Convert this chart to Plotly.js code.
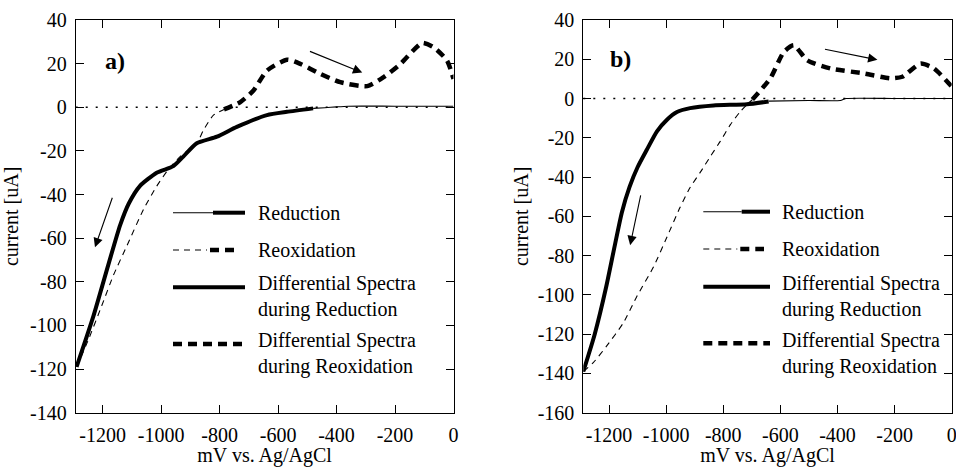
<!DOCTYPE html>
<html><head><meta charset="utf-8">
<script src="https://cdn.plot.ly/plotly-3.0.1.min.js"></script>
<style>html,body{margin:0;padding:0;background:#fff}</style>
</head><body><div id="chart" style="width:956px;height:467px"></div>
<script>
// ---------- Data (mV vs Ag/AgCl, current in uA) ----------
// Panel a
const aRedThinX = [0, -200, -360, -400, -440, -480];
const aRedThinY = [0.5, 0.5, 0.5, 0.2, -0.2, -0.5];
const aRedX = [-480, -570, -638, -741, -809, -878, -924, -958, -1015, -1072, -1110, -1140, -1180, -1232, -1289];
const aRedY = [-0.5, -2.1, -3.6, -9, -13.5, -16.5, -22.6, -27, -30, -36, -44, -54, -72, -96, -119];
const aReoxThinX = [-1289, -1250, -1203, -1163, -1117, -1060, -1015, -975, -930, -878, -855, -821, -785];
const aReoxThinY = [-119, -107, -91, -77, -63.5, -46.8, -36.2, -28.5, -22, -16.5, -10.5, -3.6, -1];
const aReoxX = [-785, -729, -684, -638, -569, -524, -455, -387, -295, -239, -181, -107, -67, -22, 0];
const aReoxY = [-1, 2.4, 7.7, 16.8, 21.8, 19.9, 15.3, 11.5, 9.7, 13.8, 19.9, 29.5, 27.4, 21.4, 13];
// Panel b
const bRedThinX = [0, -200, -370, -390, -500, -641];
const bRedThinY = [0, 0, 0, -1, -1, -1.3];
const bRedX = [-641, -717, -834, -916, -962, -997, -1032, -1068, -1100, -1128, -1155, -1180, -1210, -1250, -1290];
const bRedY = [-1.5, -2.9, -3.5, -4.9, -6.9, -10.8, -16.7, -26.2, -35, -45, -58, -75, -96, -120, -139];
const bReoxThinX = [-1290, -1255, -1208, -1150, -1103, -1044, -997, -951, -916, -880, -845, -810, -775, -740, -698];
const bReoxThinY = [-139, -134.5, -126, -114.3, -100.9, -85.7, -70.5, -55.4, -45.3, -37.5, -29.5, -21.7, -13.3, -6.6, -0.5];
const bReoxX = [-698, -635, -588, -553, -506, -424, -307, -214, -173, -109, -62, 0];
const bReoxY = [-0.5, 10.3, 23.7, 27.1, 19.5, 15.3, 12.8, 10.3, 11.1, 17.8, 15.3, 6.1];

// Tick labels
const xTickVals = [-1200, -1000, -800, -600, -400, -200, 0];
const xTickText = ["-1200", "-1000", "-800", "-600", "-400", "-200", "0"];
const aYTickVals = [-140, -120, -100, -80, -60, -40, -20, 0, 20, 40];
const aYTickText = ["-140", "-120", "-100", "-80", "-60", "-40", "-20", "0", "20", "40"];
const bYTickVals = [-160, -140, -120, -100, -80, -60, -40, -20, 0, 20, 40];
const bYTickText = ["-160", "-140", "-120", "-100", "-80", "-60", "-40", "-20", "0", "20", "40"];

const legendNames = ["Reduction", "Reoxidation", "Differential Spectra<br>during Reduction", "Differential Spectra<br>during Reoxidation"];

// ---------- Styles ----------
const W = 956, H = 467;
const px = v => v / W, py = v => 1 - v / H;
const thin = {color: '#000', width: 1.1};
const thinDash = {color: '#000', width: 1.1, dash: '6px,5px'};
const thick = {color: '#000', width: 4};
const thickDash = {color: '#000', width: 4.5, dash: '9px,6px'};
const FONT = 'Liberation Serif, Times New Roman, serif';

function tr(x, y, line, xa, ya) {
  return {x: x, y: y, type: 'scatter', mode: 'lines', line: Object.assign({shape: 'spline', smoothing: 0.6}, line),
          xaxis: xa, yaxis: ya, showlegend: false, hoverinfo: 'skip'};
}
const data = [
  tr(aRedThinX, aRedThinY, thin, 'x', 'y'),
  tr(aReoxThinX, aReoxThinY, thinDash, 'x', 'y'),
  tr(aRedX, aRedY, thick, 'x', 'y'),
  tr(aReoxX, aReoxY, thickDash, 'x', 'y'),
  tr(bRedThinX, bRedThinY, thin, 'x2', 'y2'),
  tr(bReoxThinX, bReoxThinY, thinDash, 'x2', 'y2'),
  tr(bRedX, bRedY, thick, 'x2', 'y2'),
  tr(bReoxX, bReoxY, thickDash, 'x2', 'y2')
];

function xAxis(dom, rng, anchor) {
  return {domain: dom, range: rng, anchor: anchor, tickmode: 'array', tickvals: xTickVals, ticktext: xTickText,
    ticks: 'inside', ticklen: 8, tickwidth: 1, tickcolor: '#000', mirror: 'ticks', showline: true, linecolor: '#000', linewidth: 1,
    showgrid: false, zeroline: false, tickfont: {family: FONT, size: 20, color: '#000'}, ticklabelstandoff: 4,
    ticklabeloverflow: 'allow',
    title: {text: 'mV vs. Ag/AgCl', font: {family: FONT, size: 20, color: '#000'}, standoff: 4}};
}
function yAxis(dom, rng, anchor, vals, text, st) {
  return {domain: dom, range: rng, anchor: anchor, tickmode: 'array', tickvals: vals, ticktext: text,
    ticks: 'inside', ticklen: 8, tickwidth: 1, tickcolor: '#000', mirror: 'ticks', showline: true, linecolor: '#000', linewidth: 1,
    showgrid: false, zeroline: false, tickfont: {family: FONT, size: 20, color: '#000'}, ticklabelstandoff: 4,
    title: {text: 'current [uA]', font: {family: FONT, size: 20, color: '#000'}, standoff: st}};
}
const yDom = [py(412.7), py(20)];

const shapes = [
  {type: 'line', xref: 'x domain', yref: 'y', x0: 0, x1: 1, y0: 0, y1: 0, line: {color: '#000', width: 1.5, dash: '2px,8px'}, layer: 'below'},
  {type: 'line', xref: 'x2 domain', yref: 'y2', x0: 0, x1: 1, y0: 0, y1: 0, line: {color: '#000', width: 1.5, dash: '2px,8px'}, layer: 'below'}
];
const annotations = [];
function legendBlock(x0, xm, x1, xt, rows, textRows) {
  const L = (a, b, y, line) => shapes.push({type: 'line', xref: 'paper', yref: 'paper', x0: px(a), x1: px(b), y0: py(y), y1: py(y), line: line});
  L(x0, xm, rows[0], thin); L(xm, x1, rows[0], {color: '#000', width: 4});
  L(x0, x0 + 34, rows[1], thinDash); L(x0 + 37, x1 - 6, rows[1], {color: '#000', width: 4.5, dash: '9px,6px'});
  L(x0, x1, rows[2], thick);
  L(x0, x1, rows[3], thickDash);
  legendNames.forEach((t, i) => annotations.push({xref: 'paper', yref: 'paper', x: px(xt), y: py(textRows[i]), text: t, showarrow: false,
    xanchor: 'left', yanchor: 'middle', align: 'left', font: {family: FONT, size: 20, color: '#000'}}));
}
legendBlock(173, 213, 245, 256, [212.7, 250, 287.3, 344], [212.7, 250, 296, 353]);
legendBlock(703.3, 741.7, 770, 780, [211.7, 249, 286.7, 343.3], [211.7, 249, 296, 353]);

function arrow(xr, yr, tx, ty, hx, hy) {
  annotations.push({xref: xr, yref: yr, axref: xr, ayref: yr, x: hx, y: hy, ax: tx, ay: ty, text: '', showarrow: true,
    arrowhead: 2, arrowsize: 1.7, arrowwidth: 1.1, arrowcolor: '#000'});
}
arrow('x', 'y', -496, 25.9, -312, 15.9);
arrow('x', 'y', -1165, -40.8, -1226, -64.2);
arrow('x2', 'y2', -449, 25.3, -260, 19.7);
arrow('x2', 'y2', -1088, -48.6, -1126, -74.7);
annotations.push({xref: 'x', yref: 'y', x: -1157, y: 21.4, text: '<b>a)</b>', showarrow: false, font: {family: FONT, size: 24, color: '#000'}});
annotations.push({xref: 'x2', yref: 'y2', x: -1161, y: 20.2, text: '<b>b)</b>', showarrow: false, font: {family: FONT, size: 24, color: '#000'}});

const layout = {
  width: W, height: H, margin: {l: 0, r: 0, t: 0, b: 0}, paper_bgcolor: '#fff', plot_bgcolor: '#fff',
  font: {family: FONT, size: 20, color: '#000'}, showlegend: false,
  xaxis: xAxis([px(75.7), px(453.5)], [-1292, 0], 'y'),
  yaxis: yAxis(yDom, [-140, 40], 'x', aYTickVals, aYTickText, 8),
  xaxis2: xAxis([px(583.3), px(951.7)], [-1290, 0], 'y2'),
  yaxis2: yAxis(yDom, [-160, 40], 'x2', bYTickVals, bYTickText, 3),
  shapes: shapes, annotations: annotations
};
Plotly.newPlot('chart', data, layout, {staticPlot: true, displayModeBar: false});
</script></body></html>
